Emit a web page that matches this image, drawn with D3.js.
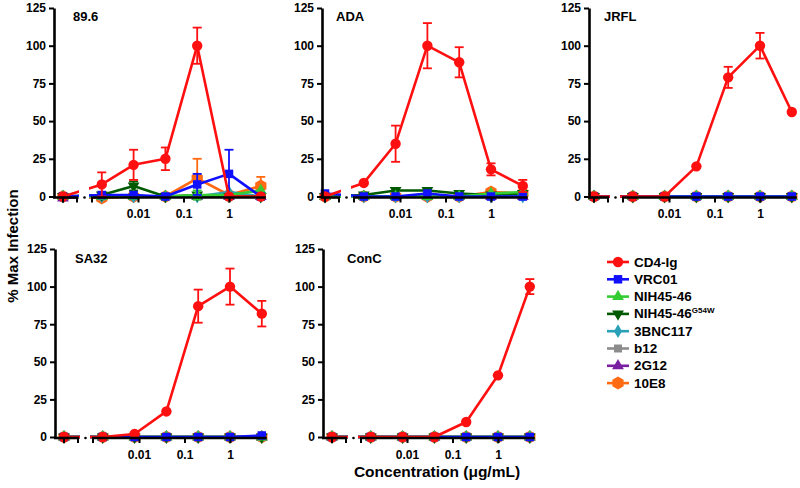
<!DOCTYPE html>
<html><head><meta charset="utf-8">
<script src="https://cdn.jsdelivr.net/npm/d3@7"></script>
<style>
body{margin:0;background:#fff}
text{font-family:Arial,"Liberation Sans",sans-serif;font-weight:bold;fill:#000}
</style>
</head><body>
<svg id="c" width="800" height="488"></svg>
<script>
// ---------- data ----------
const concentrations = [0, 0.0016, 0.008, 0.04, 0.2, 1, 5]; // 0 = no-drug control
const xTickValues = [0.01, 0.1, 1];
const xTickLabels = ["0.01", "0.1", "1"];
const yTickValues = [0, 25, 50, 75, 100, 125];
const seriesNames = ["CD4-Ig", "VRC01", "NIH45-46", "NIH45-46", "3BNC117", "b12", "2G12", "10E8"];
const seriesSup = ["", "", "", "G54W", "", "", "", ""];
const panelNames = ["89.6", "ADA", "JRFL", "SA32", "ConC"];

// values per panel: one row per series (same order as seriesNames)
const values896 = [
  [0, 8, 21, 25, 100, 0, 0],
  [0, 1, 1, 0, 8, 15, 0],
  [0, 0, 0, 0, 1, 1, 4],
  [0, 1, 7, 0, 1, 0, 0],
  [0, 0, 0, 0, 0, 3, 0],
  [0, 0, 0, 0, 0, 0, 0],
  [-1, 0, 0, 0, 0, 0, 0],
  [0, -1, 0, 0, 12, 1, 7]
];
const errors896 = [
  [0, 8, 10, 7.5, 12, 0, 0],
  [0, 0, 0, 0, 7, 16, 0],
  [0, 0, 0, 0, 3, 0, 0],
  [0, 0, 3, 0, 0, 0, 0],
  [0, 0, 0, 0, 0, 0, 0],
  [0, 0, 0, 0, 0, 0, 0],
  [0, 0, 0, 0, 0, 0, 0],
  [0, 0, 0, 0, 13, 0, 6]
];
const valuesADA = [
  [0, 9, 35, 100, 89, 18, 7],
  [2, 0, 0, 2, 0, 0, 0],
  [0, 0, 0, 0, 0, 2, 3],
  [0, 1, 4, 4, 2, 1, 2],
  [0, 0, 0, 0, 0, 0, 0],
  [0, 0, 0, 0, 0, 0, 0],
  [0, 0, 0, 0, 0, 0, 0],
  [0, 0, 0, 0, 0, 3, 2]
];
const errorsADA = [
  [0, 0, 12, 15, 10, 4, 4],
  [0, 0, 0, 0, 0, 0, 0],
  [0, 0, 0, 0, 0, 0, 0],
  [0, 0, 0, 0, 0, 0, 0],
  [0, 0, 0, 0, 0, 0, 0],
  [0, 0, 0, 0, 0, 0, 0],
  [0, 0, 0, 0, 0, 0, 0],
  [0, 0, 0, 0, 0, 0, 0]
];
const valuesJRFL = [
  [0, 0, 0, 20, 79, 100, 56],
  [0, 0, 0, 0, 0, 0, 0],
  [0, 0, 0, 0, 0, 0, 0],
  [0, 0, 0, 0, 0, 0, 0],
  [0, 0, 0, 0, 0, 0, 0],
  [0, 0, 0, 0, 0, 0, 0],
  [0, 0, 0, 0, 0, 0, 0],
  [0, 0, 0, 0, 0, 0, 0]
];
const errorsJRFL = [
  [0, 0, 0, 0, 7, 8.5, 0],
  [0, 0, 0, 0, 0, 0, 0],
  [0, 0, 0, 0, 0, 0, 0],
  [0, 0, 0, 0, 0, 0, 0],
  [0, 0, 0, 0, 0, 0, 0],
  [0, 0, 0, 0, 0, 0, 0],
  [0, 0, 0, 0, 0, 0, 0],
  [0, 0, 0, 0, 0, 0, 0]
];
const valuesSA32 = [
  [0, 0, 2, 17, 87, 100, 82],
  [0, 0, 0, 0, 0, 0, 1],
  [0, 0, 0, 0, 0, 0, 0],
  [0, 0, 0, 0, 0, 0, 0],
  [0, 0, 0, 0, 0, 0, 0],
  [0, 0, 0, 0, 0, 0, 0],
  [0, 0, 0, 0, 0, 0, 0],
  [0, 0, 0, 0, 0, 0, 0]
];
const errorsSA32 = [
  [0, 0, 0, 0, 11, 12, 8.5],
  [0, 0, 0, 0, 0, 0, 0],
  [0, 0, 0, 0, 0, 0, 0],
  [0, 0, 0, 0, 0, 0, 0],
  [0, 0, 0, 0, 0, 0, 0],
  [0, 0, 0, 0, 0, 0, 0],
  [0, 0, 0, 0, 0, 0, 0],
  [0, 0, 0, 0, 0, 0, 0]
];
const valuesConC = [
  [0, 0, 0, 0, 10, 41, 100],
  [0, 0, 0, 0, 0, 0, 0],
  [0, 0, 0, 0, 0, 0, 0],
  [0, 0, 0, 0, 0, 0, 0],
  [0, 0, 0, 0, 0, 0, 0],
  [0, 0, 0, 0, 0, 0, 0],
  [0, 0, 0, 0, 0, 0, 0],
  [0, 0, 0, 0, 0, 0, 0]
];
const errorsConC = [
  [0, 0, 0, 0, 0, 0, 5],
  [0, 0, 0, 0, 0, 0, 0],
  [0, 0, 0, 0, 0, 0, 0],
  [0, 0, 0, 0, 0, 0, 0],
  [0, 0, 0, 0, 0, 0, 0],
  [0, 0, 0, 0, 0, 0, 0],
  [0, 0, 0, 0, 0, 0, 0],
  [0, 0, 0, 0, 0, 0, 0]
];

// ---------- styles / layout ----------
const seriesColors = ["#ff1010", "#1010ff", "#33cc33", "#005a00", "#2aa0b8", "#8c8c8c", "#7a1fa2", "#ff6a13"];
const seriesSymbols = [d3.symbolCircle, d3.symbolSquare, d3.symbolTriangle, "tri-down", d3.symbolDiamond, d3.symbolSquare, d3.symbolTriangle, "hex"];
const seriesSizes = [85, 72, 60, 60, 55, 64, 60, 110];

const layout = [
  {axisX: 54, origin: 54, top: 8, zero: 196.5, titleX: 73, titleY: 21},
  {axisX: 322, origin: 316, top: 8, zero: 196.5, titleX: 336, titleY: 21},
  {axisX: 589, origin: 585, top: 8, zero: 196.5, titleX: 604, titleY: 21},
  {axisX: 55, origin: 55, top: 249, zero: 437, titleX: 75, titleY: 263},
  {axisX: 323, origin: 323, top: 249, zero: 437, titleX: 347, titleY: 263}
];
const panelValues = [values896, valuesADA, valuesJRFL, valuesSA32, valuesConC];
const panelErrors = [errors896, errorsADA, errorsJRFL, errorsSA32, errorsConC];

const svg = d3.select("#c");

function symbolPath(kind, size) {
  if (kind === "tri-down") {
    return d3.symbol(d3.symbolTriangle, size)();
  }
  if (kind === "hex") {
    const r = Math.sqrt(size / 2.6);
    const pts = d3.range(6).map(i => {
      const a = Math.PI / 6 + i * Math.PI / 3;
      return [r * Math.cos(a), r * Math.sin(a)];
    });
    return "M" + pts.map(p => p.join(",")).join("L") + "Z";
  }
  return d3.symbol(kind, size)();
}
function symbolTransform(kind) { return kind === "tri-down" ? " rotate(180)" : ""; }

panelNames.forEach((pname, pi) => {
  const L = layout[pi];
  const g = svg.append("g");
  const y = d3.scaleLinear().domain([0, 125]).range([L.zero, L.top]);
  const xl = d3.scaleLog().domain([0.001, 10]).range([L.origin + 175 - 3 * 45.5, L.origin + 175 + 45.5]);
  const xOf = c => c === 0 ? L.origin + 9 : xl(c);

  const vals = panelValues[pi], errs = panelErrors[pi];
  const line = d3.line().x(d => xOf(d[0])).y(d => y(d[1]));

  // draw series in reverse order so CD4-Ig is on top
  for (let s = seriesNames.length - 1; s >= 0; s--) {
    const pts = concentrations.map((c, i) => [c, vals[s][i], errs[s][i]]);
    const sg = g.append("g");
    sg.append("path").attr("d", line(pts)).attr("fill", "none")
      .attr("stroke", seriesColors[s]).attr("stroke-width", 2.6).attr("stroke-linejoin", "round");
    pts.filter(d => d[2] > 0).forEach(d => {
      const cx = xOf(d[0]);
      const y1 = y(d[1] + d[2]), y2 = y(d[1] - d[2]);
      sg.append("line").attr("x1", cx).attr("x2", cx).attr("y1", y1).attr("y2", y2)
        .attr("stroke", seriesColors[s]).attr("stroke-width", 1.8);
      [y1, y2].forEach(yy => sg.append("line").attr("x1", cx - 4.5).attr("x2", cx + 4.5)
        .attr("y1", yy).attr("y2", yy).attr("stroke", seriesColors[s]).attr("stroke-width", 1.8));
    });
    sg.selectAll("path.m").data(pts).join("path").attr("class", "m")
      .attr("d", symbolPath(seriesSymbols[s], seriesSizes[s]))
      .attr("transform", d => `translate(${xOf(d[0])},${y(d[1])})` + symbolTransform(seriesSymbols[s]))
      .attr("fill", seriesColors[s]);
  }

  // axis break mask
  g.append("rect").attr("x", L.origin + 25).attr("y", L.top - 5)
    .attr("width", 10).attr("height", L.zero - L.top + 12).attr("fill", "#fff");

  // y axis
  const ya = g.append("g").attr("transform", `translate(${L.axisX},0)`)
    .call(d3.axisLeft(y).tickValues(yTickValues).tickSize(5).tickSizeOuter(0).tickPadding(3));
  ya.select(".domain").attr("stroke-width", 2.6).attr("stroke", "#000");
  ya.selectAll(".tick line").attr("stroke-width", 2).attr("stroke", "#000");
  ya.selectAll(".tick text").style("font-size", "12px").style("font-family", "Arial,'Liberation Sans',sans-serif").style("font-weight", "bold");

  // x axis (broken)
  const axY = L.zero + 1;
  const xa = g.append("g").attr("transform", `translate(0,${axY})`)
    .call(d3.axisBottom(xl).tickValues(xTickValues).tickFormat((d, i) => xTickLabels[i])
      .tickSize(5).tickSizeOuter(0).tickPadding(7));
  xa.select(".domain").remove();
  xa.selectAll(".tick line").attr("stroke-width", 2).attr("stroke", "#000");
  xa.selectAll(".tick text").style("font-size", "12px").style("font-family", "Arial,'Liberation Sans',sans-serif").style("font-weight", "bold");
  const seg1 = [L.axisX - 1, L.origin + 24];
  const seg2 = [L.origin + 37, xl(5) + 5];
  [seg1, seg2].forEach(sg => {
    g.append("line").attr("x1", sg[0]).attr("x2", sg[1]).attr("y1", axY).attr("y2", axY)
      .attr("stroke", "#000").attr("stroke-width", 2.6);
  });
  [L.origin + 23, L.origin + 38, xOf(0)].forEach(tx => {
    g.append("line").attr("x1", tx).attr("x2", tx).attr("y1", axY).attr("y2", axY + 5)
      .attr("stroke", "#000").attr("stroke-width", 2);
  });
  g.append("circle").attr("cx", L.origin + 30.5).attr("cy", axY).attr("r", 1.3).attr("fill", "#000");

  // title
  g.append("text").attr("x", L.titleX).attr("y", L.titleY).style("font-size", "13px").text(pname);
});

// axis titles
svg.append("text").attr("transform", "translate(18,246) rotate(-90)").attr("text-anchor", "middle")
  .style("font-size", "15px").text("% Max Infection");
svg.append("text").attr("x", 437).attr("y", 477).attr("text-anchor", "middle")
  .style("font-size", "15.5px").text("Concentration (\u03bcg/mL)");

// legend
const lg = svg.append("g");
seriesNames.forEach((n, i) => {
  const yy = 262 + i * 17.3;
  lg.append("line").attr("x1", 607).attr("x2", 629).attr("y1", yy).attr("y2", yy)
    .attr("stroke", seriesColors[i]).attr("stroke-width", 2.6);
  lg.append("path").attr("d", symbolPath(seriesSymbols[i], seriesSizes[i]))
    .attr("transform", `translate(618,${yy})` + symbolTransform(seriesSymbols[i]))
    .attr("fill", seriesColors[i]);
  const t = lg.append("text").attr("x", 634).attr("y", yy + 4.5).style("font-size", "13.5px").text(n);
  if (seriesSup[i]) t.append("tspan").attr("dy", -5).style("font-size", "8px").text(seriesSup[i]);
});
</script>
</body></html>
